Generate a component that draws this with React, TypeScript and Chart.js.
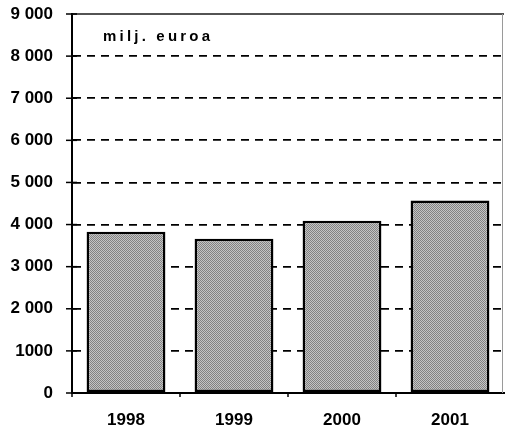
import React, { useEffect, useRef } from "react";
import { Chart, registerables } from "chart.js";

Chart.register(...registerables);

const categories = ["1998", "1999", "2000", "2001"];
const values = [3830, 3660, 4090, 4570];
const yTickValues = [0, 1000, 2000, 3000, 4000, 5000, 6000, 7000, 8000, 9000];
const yTickLabels = ["0", "1000", "2 000", "3 000", "4 000", "5 000", "6 000", "7 000", "8 000", "9 000"];
const unitLabel = "milj. euroa";

const FONT = "'Liberation Sans', Arial, sans-serif";

function makePattern(): CanvasPattern | string {
  const c = document.createElement("canvas");
  c.width = 2;
  c.height = 2;
  const g = c.getContext("2d");
  if (!g) return "#a8a8a8";
  g.fillStyle = "#c4c4c4";
  g.fillRect(0, 0, 2, 2);
  g.fillStyle = "#828282";
  g.fillRect(0, 0, 1, 1);
  g.fillRect(1, 1, 1, 1);
  const p = g.createPattern(c, "repeat");
  return p || "#a8a8a8";
}

const framePlugin = {
  id: "frame",
  afterDatasetsDraw(chart: any) {
    const { ctx, chartArea, scales } = chart;
    const { left, right, top, bottom } = chartArea;
    ctx.save();
    ctx.strokeStyle = "#1a1a1a";
    ctx.lineWidth = 1.5;
    ctx.beginPath();
    ctx.moveTo(left, top);
    ctx.lineTo(right, top);
    ctx.stroke();
    ctx.strokeStyle = "#9a9a9a";
    ctx.lineWidth = 1;
    ctx.beginPath();
    ctx.moveTo(right - 1.5, top);
    ctx.lineTo(right - 1.5, bottom);
    ctx.stroke();
    ctx.strokeStyle = "#000";
    ctx.lineWidth = 1.5;
    const y = scales.y;
    yTickValues.forEach((v) => {
      const py = y.getPixelForValue(v);
      ctx.beginPath();
      ctx.moveTo(left - 6, py);
      ctx.lineTo(left + (v === 0 ? 0 : 5), py);
      ctx.stroke();
    });
    const x = scales.x;
    const step = x.getPixelForValue(1) - x.getPixelForValue(0);
    for (let i = 0; i < categories.length; i++) {
      const px = x.getPixelForValue(i) - step / 2;
      ctx.beginPath();
      ctx.moveTo(px, bottom);
      ctx.lineTo(px, bottom + 4);
      ctx.stroke();
    }
    ctx.fillStyle = "#000";
    ctx.font = `bold 15px ${FONT}`;
    (ctx as any).letterSpacing = "3.2px";
    ctx.textAlign = "left";
    ctx.textBaseline = "alphabetic";
    ctx.fillText(unitLabel, left + 31, top + 27);
    ctx.restore();
  },
};

export default function App() {
  const ref = useRef<HTMLCanvasElement | null>(null);
  useEffect(() => {
    if (!ref.current) return;
    const chart = new Chart(ref.current, {
      type: "bar",
      data: {
        labels: categories,
        datasets: [
          {
            data: values,
            backgroundColor: makePattern() as any,
            borderColor: "#000",
            borderWidth: 2.5,
            borderSkipped: false,
            barPercentage: 0.73,
            categoryPercentage: 1,
          },
        ],
      },
      options: {
        animation: false,
        responsive: false,
        maintainAspectRatio: false,
        layout: { padding: { left: 0, right: 1, top: 14, bottom: 0 } },
        plugins: { legend: { display: false }, tooltip: { enabled: false } },
        scales: {
          x: {
            grid: { display: false, drawTicks: false },
            border: { display: true, color: "#000", width: 2 },
            ticks: {
              color: "#000",
              font: { family: FONT, size: 17, weight: "bold" },
              padding: 17,
            },
            afterFit: (s: any) => {
              s.height = 43;
            },
          },
          y: {
            min: 0,
            max: 9000,
            afterBuildTicks: (s: any) => {
              s.ticks = yTickValues.map((v) => ({ value: v }));
            },
            grid: {
              drawTicks: true,
              tickLength: 19,
              tickColor: "rgba(0,0,0,0)",
              color: (c: any) =>
                c.tick && (c.tick.value === 0 || c.tick.value === 9000) ? "rgba(0,0,0,0)" : "#000",
              lineWidth: 1.8,
            },
            border: { display: true, color: "#000", width: 2, dash: [8, 6] },
            ticks: {
              color: "#000",
              font: { family: FONT, size: 17, weight: "bold" },
              padding: 0,
              callback: (v: any) => {
                const i = yTickValues.indexOf(Number(v));
                return i >= 0 ? yTickLabels[i] : "";
              },
            },
            afterFit: (s: any) => {
              s.width = 72;
            },
          },
        },
      },
      plugins: [framePlugin],
    });
    return () => chart.destroy();
  }, []);
  return (
    <div style={{ position: "fixed", left: 0, top: 0, width: 505, height: 436, background: "#fff" }}>
      <canvas ref={ref} width={505} height={436} style={{ width: 505, height: 436 }} />
    </div>
  );
}
